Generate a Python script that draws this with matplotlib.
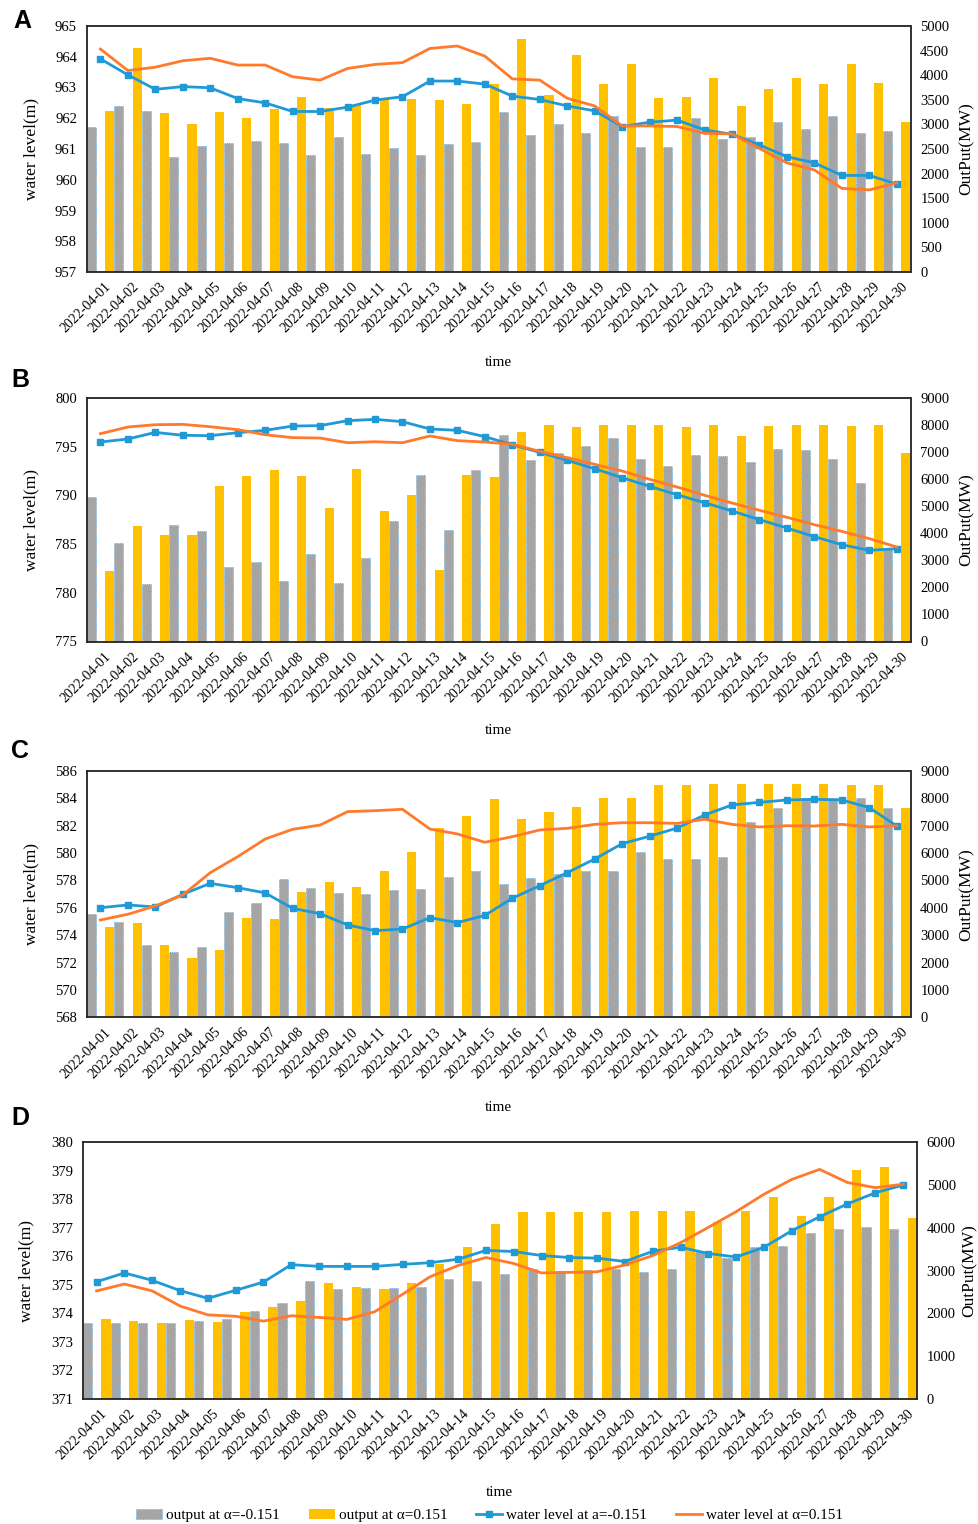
import matplotlib
matplotlib.use('Agg')
import matplotlib.pyplot as plt
import matplotlib.transforms as mtransforms
from matplotlib.patches import Patch
from matplotlib.lines import Line2D
import numpy as np

plt.rcParams['font.family'] = ['Liberation Serif', 'DejaVu Serif']

dates = ['2022-04-%02d' % d for d in range(1, 31)]

# panel A
out_neg_A = [2950, 3370, 3280, 2340, 2560, 2630, 2660, 2630, 2370, 2740, 2400, 2530, 2370, 2600, 2650,
             3250, 2790, 3000, 2820, 3180, 2540, 2540, 3120, 2700, 2750, 3040, 2910, 3170, 2830, 2870]
out_pos_A = [3280, 4550, 3230, 3010, 3250, 3140, 3310, 3560, 3330, 3390, 3510, 3510, 3500, 3420, 3820,
             4740, 3600, 4420, 3820, 4220, 3540, 3560, 3950, 3370, 3710, 3950, 3820, 4230, 3850, 3050]
lvl_neg_A = [963.93, 963.41, 962.94, 963.03, 962.99, 962.64, 962.50, 962.22, 962.22, 962.36, 962.59,
             962.70, 963.21, 963.21, 963.11, 962.72, 962.61, 962.40, 962.24, 961.73, 961.87, 961.94,
             961.62, 961.48, 961.13, 960.75, 960.55, 960.14, 960.14, 959.86]
lvl_pos_A = [964.25, 963.55, 963.66, 963.87, 963.95, 963.73, 963.73, 963.35, 963.24, 963.62, 963.75,
             963.81, 964.27, 964.35, 964.02, 963.28, 963.24, 962.65, 962.40, 961.75, 961.75, 961.73,
             961.51, 961.49, 961.02, 960.55, 960.32, 959.72, 959.67, 959.90]

# panel B
out_neg_B = [5330, 3650, 2140, 4290, 4070, 2740, 2930, 2220, 3220, 2170, 3100, 4440, 6150, 4110, 6350,
             7620, 6700, 6980, 7210, 7520, 6760, 6490, 6900, 6860, 6620, 7130, 7070, 6750, 5870, 3430]
out_pos_B = [2610, 4260, 3950, 3920, 5740, 6110, 6350, 6130, 4950, 6380, 4810, 5430, 2660, 6150, 6070,
             7740, 7990, 7940, 7990, 7990, 7990, 7920, 7990, 7610, 7970, 7990, 7990, 7970, 7990, 6970]
lvl_neg_B = [795.48, 795.79, 796.47, 796.17, 796.13, 796.44, 796.68, 797.12, 797.16, 797.67, 797.81,
             797.57, 796.82, 796.68, 796.03, 795.20, 794.42, 793.60, 792.74, 791.82, 790.93, 790.07,
             789.25, 788.40, 787.51, 786.65, 785.76, 784.94, 784.36, 784.53]
lvl_pos_B = [796.34, 797.02, 797.26, 797.29, 797.05, 796.75, 796.23, 795.93, 795.89, 795.41, 795.51,
             795.41, 796.10, 795.62, 795.48, 795.25, 794.52, 793.87, 793.19, 792.50, 791.65, 790.86,
             790.01, 789.22, 788.47, 787.75, 786.99, 786.31, 785.56, 784.70]

# panel C
out_neg_C = [3780, 3470, 2640, 2380, 2560, 3840, 4170, 5040, 4740, 4530, 4490, 4640, 4670, 5130, 5360,
             4860, 5080, 5230, 5360, 5360, 6040, 5800, 5800, 5850, 7130, 7640, 8000, 8030, 8000, 7630]
out_pos_C = [3290, 3450, 2630, 2180, 2460, 3640, 3590, 4570, 4950, 4750, 5350, 6040, 6920, 7370, 7970,
             7250, 7490, 7670, 8000, 8000, 8490, 8490, 8540, 8540, 8540, 8540, 8540, 8490, 8490, 7630]
lvl_neg_C = [576.01, 576.21, 576.06, 576.99, 577.79, 577.47, 577.09, 575.96, 575.57, 574.75, 574.33,
             574.45, 575.28, 574.92, 575.45, 576.70, 577.62, 578.57, 579.57, 580.69, 581.23, 581.83,
             582.78, 583.52, 583.71, 583.88, 583.93, 583.88, 583.32, 581.98]
lvl_pos_C = [575.11, 575.53, 576.14, 576.94, 578.57, 579.74, 581.03, 581.74, 582.05, 583.03, 583.10,
             583.20, 581.76, 581.40, 580.79, 581.20, 581.69, 581.81, 582.10, 582.22, 582.22, 582.17,
             582.47, 582.10, 581.91, 582.00, 581.98, 582.10, 581.91, 582.00]

# panel D
out_neg_D = [1770, 1780, 1780, 1780, 1820, 1860, 2050, 2240, 2750, 2580, 2600, 2600, 2610, 2800, 2760,
             2920, 3040, 3000, 3020, 3050, 2970, 3050, 3430, 3300, 3560, 3580, 3890, 3970, 4020, 3980]
out_pos_D = [1860, 1820, 1780, 1840, 1800, 2030, 2140, 2300, 2700, 2610, 2580, 2700, 3160, 3550, 4080,
             4360, 4360, 4360, 4360, 4390, 4390, 4390, 4130, 4390, 4710, 4280, 4730, 5350, 5420, 4220]
lvl_neg_D = [375.11, 375.42, 375.16, 374.80, 374.53, 374.81, 375.10, 375.71, 375.65, 375.65, 375.65,
             375.72, 375.78, 375.90, 376.21, 376.17, 376.03, 375.96, 375.94, 375.82, 376.18, 376.32,
             376.10, 375.98, 376.32, 376.90, 377.39, 377.84, 378.23, 378.50]
lvl_pos_D = [374.79, 375.03, 374.79, 374.26, 373.95, 373.90, 373.73, 373.92, 373.86, 373.79, 374.06,
             374.67, 375.29, 375.68, 375.96, 375.75, 375.42, 375.44, 375.46, 375.70, 376.03, 376.48,
             377.02, 377.57, 378.18, 378.70, 379.05, 378.59, 378.41, 378.53]

GREY = '#A5A5A5'
YELLOW = '#FFC000'
BLUE = '#1F9AD6'
ORANGE = '#FF7A2A'
EDGE = '#5BA3D9'

W, H = 979, 1524
fig = plt.figure(figsize=(W / 100, H / 100), dpi=100)


def px_rect(x0, y0, x1, y1):
    return [x0 / W, 1 - y1 / H, (x1 - x0) / W, (y1 - y0) / H]


def draw_panel(rect, letter, letter_xy, out_neg, out_pos, lvl_neg, lvl_pos, lvl_ticks, out_ticks,
               right_lab_x=1.059):
    ax = fig.add_axes(rect)
    ax2 = ax.twinx()
    x = np.arange(len(dates))
    bw = 0.33
    ax.bar(x - 0.5, out_neg, width=bw, align='edge', color=GREY,
           edgecolor=EDGE, linewidth=0.6, linestyle=':')
    ax.bar(x + 0.5 - bw, out_pos, width=bw, align='edge', color=YELLOW)
    ax2.plot(x, lvl_neg, color=BLUE, lw=2, marker='s', ms=5)
    ax2.plot(x, lvl_pos, color=ORANGE, lw=2)

    ax.set_xlim(-0.5, len(dates) - 0.5)
    ax.set_ylim(out_ticks[0], out_ticks[-1])
    ax.set_yticks(out_ticks)
    ax2.set_ylim(lvl_ticks[0], lvl_ticks[-1])
    ax2.set_yticks(lvl_ticks)

    ax.yaxis.tick_right()
    ax.yaxis.set_label_position('right')
    ax2.yaxis.tick_left()
    ax2.yaxis.set_label_position('left')

    ax.tick_params(axis='both', length=0, labelsize=10.5, pad=7)
    ax2.tick_params(axis='both', length=0, labelsize=10.5, pad=7)

    ax.set_xticks(x)
    ax.set_xticklabels(dates, rotation=45, ha='right', rotation_mode='anchor', fontsize=10)
    ax.tick_params(axis='x', pad=6)
    offset = mtransforms.ScaledTranslation(4 / 100, 0, fig.dpi_scale_trans)
    for lab in ax.get_xticklabels():
        lab.set_transform(lab.get_transform() + offset)

    for s in ax.spines.values():
        s.set_linewidth(1.3)
        s.set_color('#222222')
    for s in ax2.spines.values():
        s.set_visible(False)

    ax.set_ylabel('OutPut(MW)', fontsize=12.5)
    ax2.set_ylabel('water level(m)', fontsize=12.5)
    ax.yaxis.set_label_coords(right_lab_x, 0.5)
    ax2.yaxis.set_label_coords(-0.058, 0.5)
    ax.set_xlabel('time', fontsize=11)
    ax.xaxis.set_label_coords(0.5, -0.34)

    fig.text(letter_xy[0] / W, 1 - letter_xy[1] / H, letter, fontsize=18, fontweight='bold',
             family='Liberation Sans', ha='center', va='center')
    return ax


draw_panel(px_rect(86.7, 26, 910.5, 272), 'A', (22, 21),
           out_neg_A, out_pos_A, lvl_neg_A, lvl_pos_A,
           np.arange(957, 966, 1), np.arange(0, 5001, 500))
draw_panel(px_rect(86.7, 398, 910.5, 641.5), 'B', (20, 380),
           out_neg_B, out_pos_B, lvl_neg_B, lvl_pos_B,
           np.arange(775, 801, 5), np.arange(0, 9001, 1000))
draw_panel(px_rect(86.7, 771, 910.5, 1017.3), 'C', (20, 751),
           out_neg_C, out_pos_C, lvl_neg_C, lvl_pos_C,
           np.arange(568, 587, 2), np.arange(0, 9001, 1000))
draw_panel(px_rect(82.7, 1142.3, 917, 1399), 'D', (20, 1118),
           out_neg_D, out_pos_D, lvl_neg_D, lvl_pos_D,
           np.arange(371, 381, 1), np.arange(0, 6001, 1000), right_lab_x=1.054)

handles = [
    Patch(facecolor=GREY, edgecolor=EDGE, linestyle=':', linewidth=0.6),
    Patch(facecolor=YELLOW),
    Line2D([], [], color=BLUE, lw=2, marker='s', ms=5),
    Line2D([], [], color=ORANGE, lw=2),
]
labels = ['output at α=-0.151', 'output at α=0.151',
          'water level at a=-0.151', 'water level at α=0.151']
fig.legend(handles, labels, loc='lower center', bbox_to_anchor=(0.5, -0.008), ncol=4,
           frameon=False, fontsize=11, handlelength=1.7, columnspacing=1.9, handletextpad=0.26)

fig.savefig('out.png', dpi=100)
